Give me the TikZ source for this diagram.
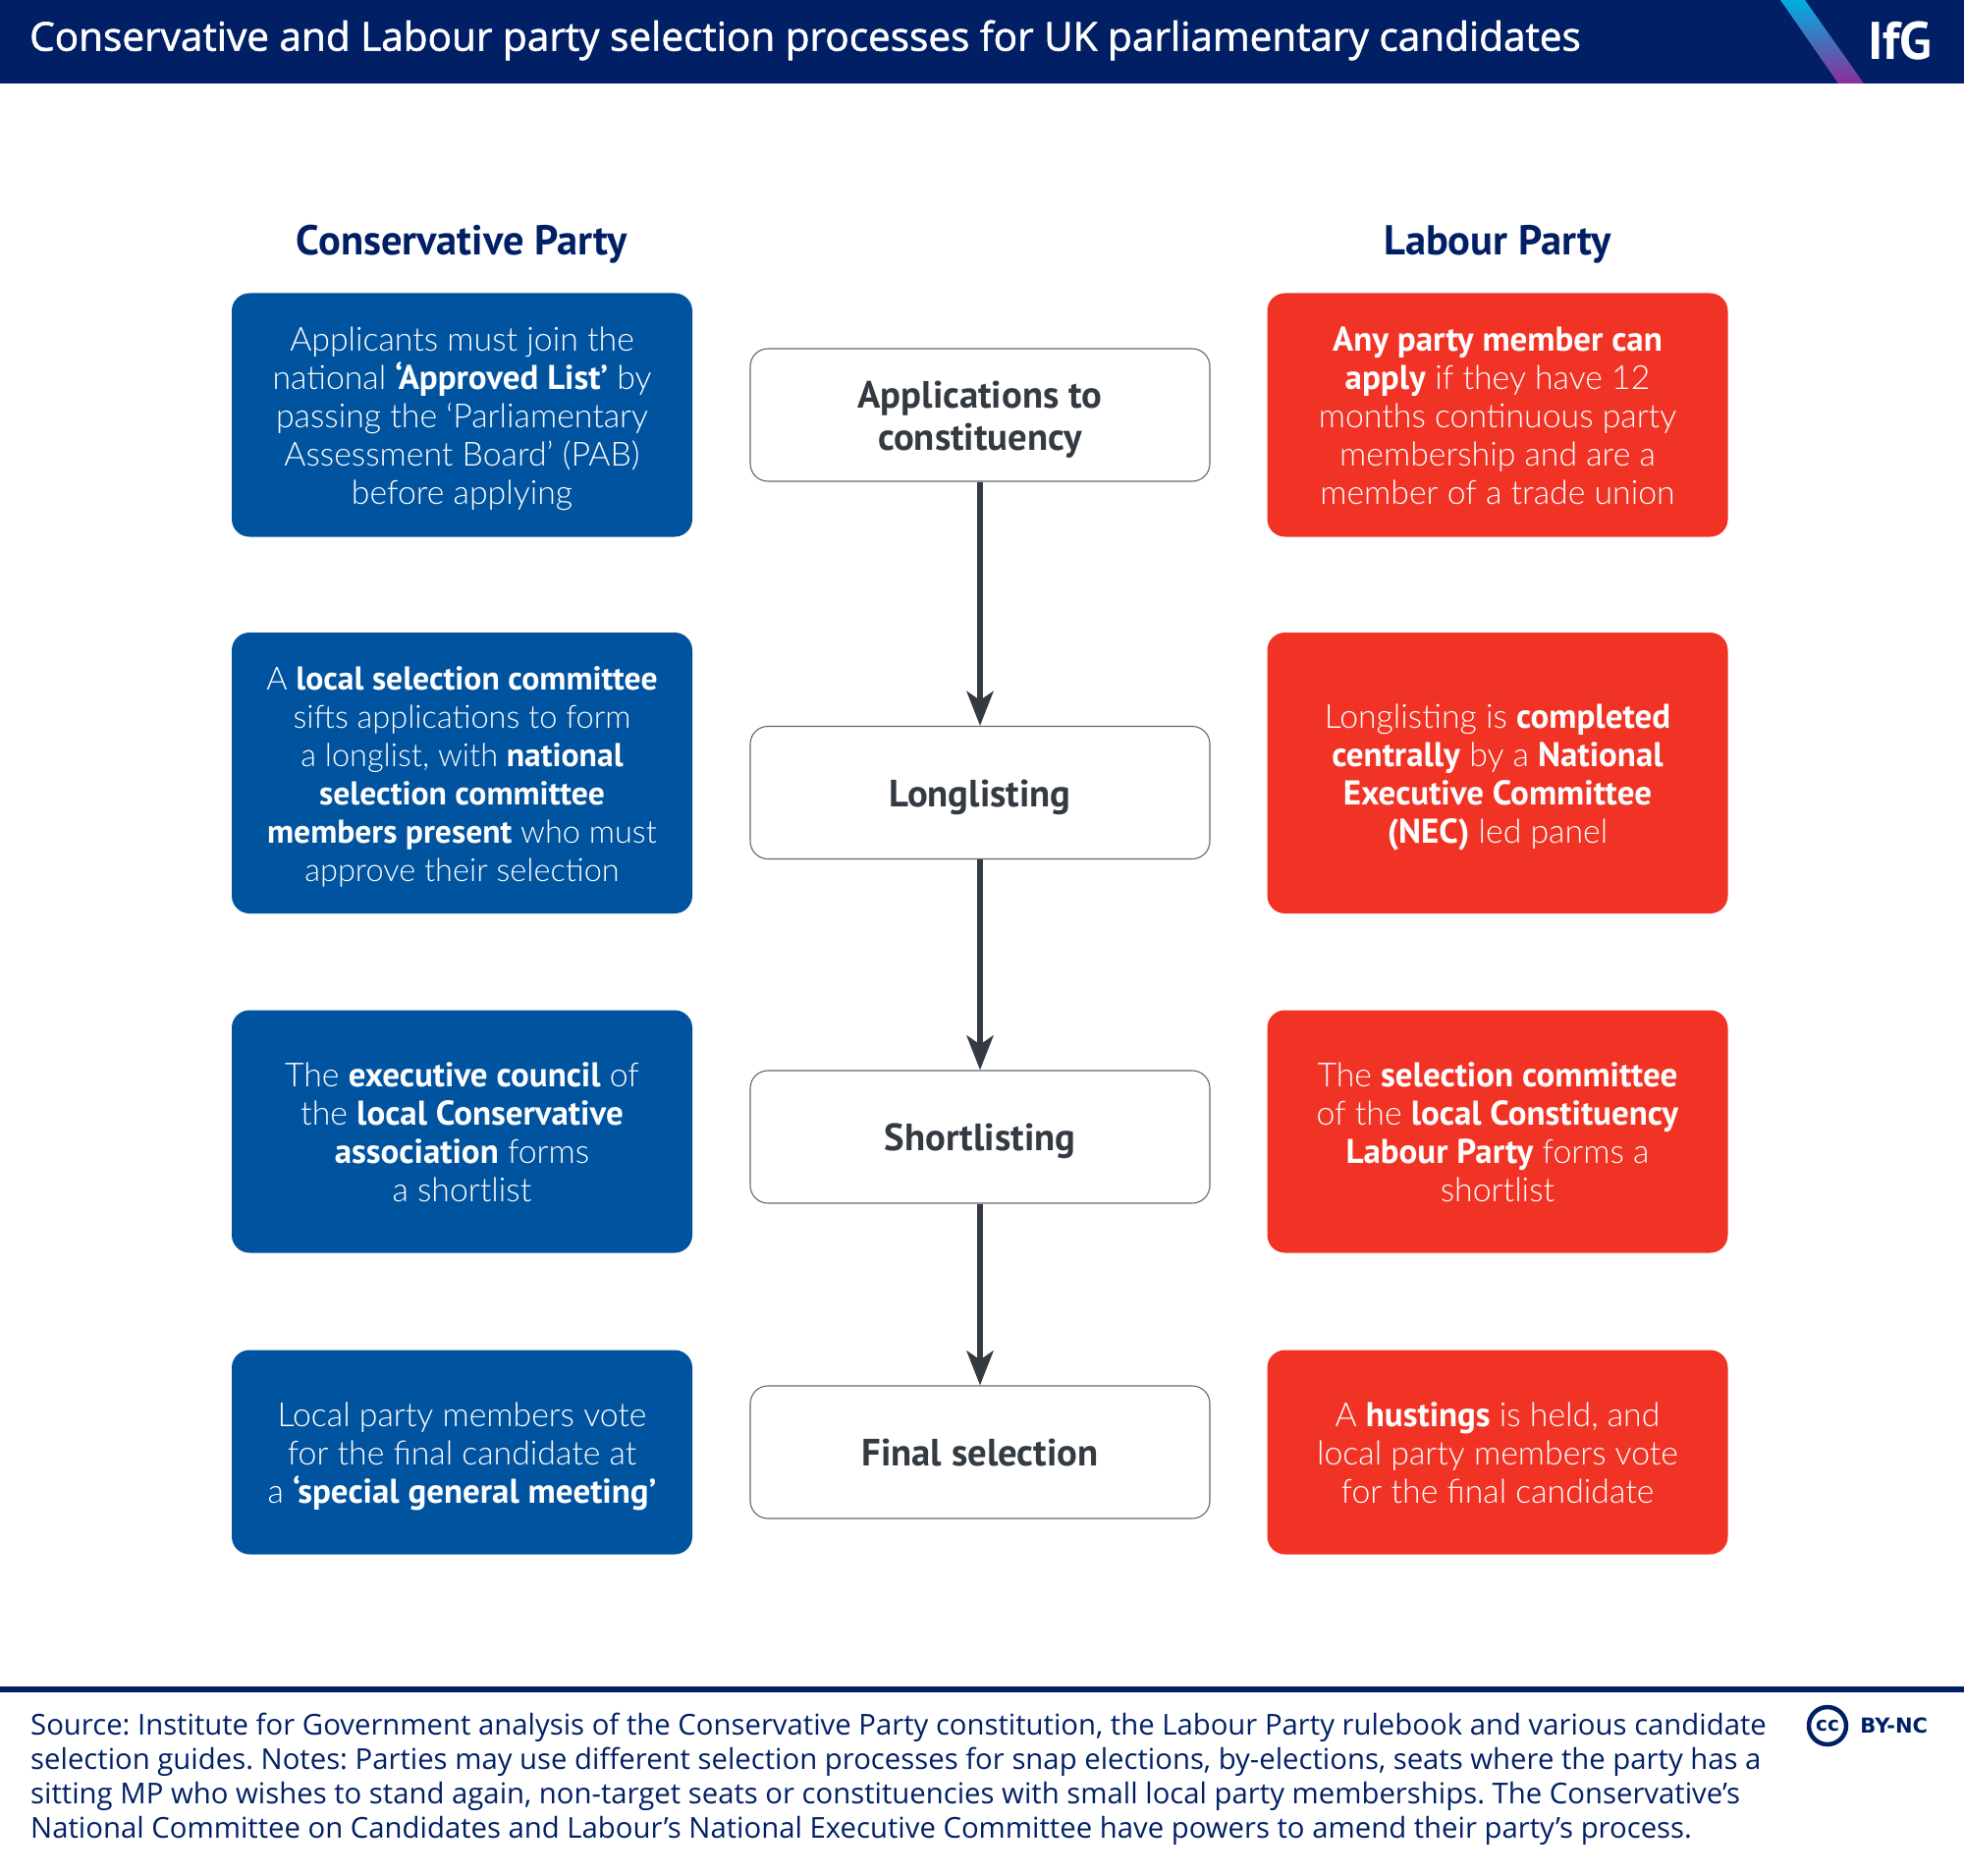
\documentclass[tikz,border=0pt]{standalone}
\usepackage{fontspec}
\usepackage{tikz}
\usetikzlibrary{arrows.meta,shapes,positioning}
\setmainfont{Open Sans}
\newfontfamily\titlefont{Open Sans}[FakeBold=1.5]
\newfontfamily\boxfont{Lato Light}[BoldFont={PT Sans Bold},BoldFeatures={Scale=1.035}]
\newfontfamily\stepfont{PT Sans Bold}
\newfontfamily\licencefont{DejaVu Sans Bold}
\definecolor{ifgnavy}{HTML}{001F65}
\definecolor{conblue}{HTML}{00539F}
\definecolor{labred}{HTML}{F13325}
\definecolor{stepgrey}{HTML}{333A42}
\definecolor{stripetop}{HTML}{00AEE0}
\definecolor{stripebot}{HTML}{8C2F9B}
\tikzstyle{con}=[rectangle, rounded corners=18pt, fill=conblue, text=white, text width=469pt, align=flush center, inner sep=0pt,
        execute at begin node=\rule{0pt}{37.5pt}, execute at end node=\strut, font=\boxfont\fontsize{33.8}{39}\selectfont]
\tikzstyle{lab}=[rectangle, rounded corners=18pt, fill=labred, text=white, text width=469pt, align=flush center, inner sep=0pt,
        execute at begin node=\rule{0pt}{37.5pt}, execute at end node=\strut, font=\boxfont\fontsize{33.8}{39}\selectfont]
\tikzstyle{stepbox}=[rectangle, rounded corners=18pt, draw=black!60, line width=1.1pt, fill=white, text=stepgrey, text width=468pt,
        minimum height=135pt, align=flush center, inner sep=0pt, execute at begin node=\rule{0pt}{41.5pt}, execute at end node=\strut,
        font=\stepfont\fontsize{38.7}{43}\selectfont]
\tikzstyle{party}=[text=ifgnavy, inner sep=0pt, font=\stepfont\fontsize{42.5}{47}\selectfont]
\tikzstyle{flow}=[draw=stepgrey, line width=6pt, -{Stealth[length=35pt,width=27pt,inset=9pt]}]
\tikzstyle{source}=[text=ifgnavy, anchor=north west, align=left, inner sep=0pt, font=\frenchspacing\fontsize{29.3}{34.8}\selectfont]
\begin{document}
\begin{tikzpicture}[x=1pt,y=-1pt]
\useasboundingbox (0,0) rectangle (2000,1910);
\fill[ifgnavy] (0,0) rectangle (2000,85);
\shade[top color=stripetop, bottom color=stripebot] (1813,0) -- (1838,0) -- (1898,85) -- (1872,85) -- cycle;
\node [anchor=west, text=white, inner sep=0pt, font=\titlefont\frenchspacing\fontsize{40.5}{44}\selectfont] (title) at (30,41) {Conservative and Labour party selection processes for UK parliamentary candidates};
\node [text=white, inner sep=0pt, font=\stepfont\fontsize{54}{54}\selectfont] (logo) at (1935,42) {IfG};
\node [party] (conhead) at (470.5,249) {Conservative Party};
\node [party] (labhead) at (1525,249) {Labour Party};
\node [con, minimum height=248pt] (con1) at (470.5,422.5) {Applicants must join the\\national \textbf{‘Approved List’} by\\passing the ‘Parliamentary\\Assessment Board’ (PAB)\\before applying};
\node [con, minimum height=286pt, font=\boxfont\fontsize{32.5}{39}\selectfont] (con2) at (470.5,787) {A \textbf{local selection committee}\\sifts applications to form\\a longlist, with \textbf{national}\\\textbf{selection committee}\\\textbf{members present} who must\\approve their selection};
\node [con, minimum height=247pt] (con3) at (470.5,1152) {The \textbf{executive council} of\\the \textbf{local Conservative}\\\textbf{association} forms\\a shortlist};
\node [con, minimum height=208pt] (con4) at (470.5,1478.5) {Local party members vote\\for the final candidate at\\a \textbf{‘special general meeting’}};
\node [stepbox] (apply) at (998,422.5) {Applications to\\constituency};
\node [stepbox] (long) at (998,807) {Longlisting};
\node [stepbox] (short) at (998,1157.5) {Shortlisting};
\node [stepbox] (final) at (998,1478.5) {Final selection};
\node [lab, minimum height=248pt] (lab1) at (1525,422.5) {\textbf{Any party member can}\\\textbf{apply} if they have 12\\months continuous party\\membership and are a\\member of a trade union};
\node [lab, minimum height=286pt] (lab2) at (1525,787) {Longlisting is \textbf{completed}\\\textbf{centrally} by a \textbf{National}\\\textbf{Executive Committee}\\\textbf{(NEC)} led panel};
\node [lab, minimum height=247pt] (lab3) at (1525,1152) {The \textbf{selection committee}\\of the \textbf{local Constituency}\\\textbf{Labour Party} forms a\\shortlist};
\node [lab, minimum height=208pt] (lab4) at (1525,1478.5) {A \textbf{hustings} is held, and\\local party members vote\\for the final candidate};
\draw [flow] (apply) -- (long);
\draw [flow] (long) -- (short);
\draw [flow] (short) -- (final);
\fill[ifgnavy] (0,1717) rectangle (2000,1723);
\node [source] (notes) at (31,1744) {Source: Institute for Government analysis of the Conservative Party constitution, the Labour Party rulebook and various candidate\\selection guides. Notes: Parties may use different selection processes for snap elections, by-elections, seats where the party has a\\sitting MP who wishes to stand again, non-target seats or constituencies with small local party memberships. The Conservative’s\\National Committee on Candidates and Labour’s National Executive Committee have powers to amend their party’s process.};
\node [circle, draw=ifgnavy, line width=4.5pt, minimum size=38pt, inner sep=0pt, text=ifgnavy, font=\licencefont\fontsize{20}{20}\selectfont] (cc) at (1861,1757) {cc};
\node [right=12pt of cc, inner sep=0pt, text=ifgnavy, font=\licencefont\fontsize{21}{21}\selectfont] (bync) {BY-NC};
\end{tikzpicture}
\end{document}
